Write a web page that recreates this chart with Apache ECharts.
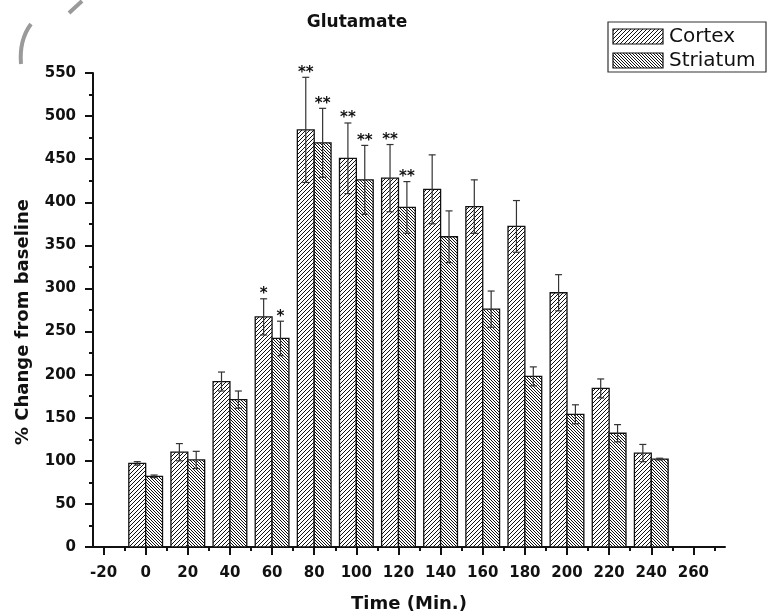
<!DOCTYPE html>
<html>
<head>
<meta charset="utf-8">
<script src="https://cdn.jsdelivr.net/npm/echarts@6/dist/echarts.min.js"></script>
<style>
  html, body { margin: 0; padding: 0; background: #fff; }
  #main { width: 768px; height: 615px; }
</style>
</head>
<body>
<div id="main"></div>
<script>
// 数据
const times = [0, 20, 40, 60, 80, 100, 120, 140, 160, 180, 200, 220, 240]
const cortex = [97, 110, 192, 267, 484, 451, 428, 415, 395, 372, 295, 184, 109]
const cortexErr = [2, 10, 11, 21, 61, 41, 39, 40, 31, 30, 21, 11, 10]
const cortexMarks = ['', '', '', '*', '**', '**', '**', '', '', '', '', '', '']
const striatum = [82, 101, 171, 242, 469, 426, 394, 360, 276, 198, 154, 132, 102]
const striatumErr = [1.5, 10, 10, 20, 40, 40, 30, 30, 21, 11, 11, 10, 1]
const striatumMarks = ['', '', '', '*', '**', '**', '**', '', '', '', '', '', '']
const xTicks = [-20, 0, 20, 40, 60, 80, 100, 120, 140, 160, 180, 200, 220, 240, 260]
const xMinorTicks = [-10, 10, 30, 50, 70, 90, 110, 130, 150, 170, 190, 210, 230, 250, 270]

const FONT = 'DejaVu Sans'

// 斜线填充
function makeHatch (size, forward) {
  const c = document.createElement('canvas')
  c.width = size
  c.height = size
  const ctx = c.getContext('2d')
  ctx.fillStyle = '#fff'
  ctx.fillRect(0, 0, size, size)
  ctx.strokeStyle = '#111'
  ctx.lineWidth = 1
  ctx.beginPath()
  if (forward) {
    ctx.moveTo(0, size); ctx.lineTo(size, 0)
    ctx.moveTo(-1, 1); ctx.lineTo(1, -1)
    ctx.moveTo(size - 1, size + 1); ctx.lineTo(size + 1, size - 1)
  } else {
    ctx.moveTo(0, 0); ctx.lineTo(size, size)
    ctx.moveTo(-1, size - 1); ctx.lineTo(1, size + 1)
    ctx.moveTo(size - 1, -1); ctx.lineTo(size + 1, 1)
  }
  ctx.stroke()
  return { image: c, repeat: 'repeat' }
}
const cortexFill = makeHatch(4, true)
const striatumFill = makeHatch(3, false)

function barRenderer (offset, marks, fill) {
  return function (params, api) {
    const t = api.value(0)
    const v = api.value(1)
    const e = api.value(2)
    const x0 = t + offset
    const p0 = api.coord([x0, v])
    const p1 = api.coord([x0 + 8, 0])
    const top = api.coord([x0 + 4, v + e])
    const bot = api.coord([x0 + 4, v - e])
    const cx = top[0]
    const children = [
      { type: 'rect', shape: { x: p0[0], y: p0[1], width: p1[0] - p0[0], height: p1[1] - p0[1] }, style: { fill: fill, stroke: '#111', lineWidth: 1.3 } },
      { type: 'line', shape: { x1: cx, y1: top[1], x2: cx, y2: bot[1] }, style: { stroke: '#333', lineWidth: 1.2 } },
      { type: 'line', shape: { x1: cx - 3.5, y1: top[1], x2: cx + 3.5, y2: top[1] }, style: { stroke: '#333', lineWidth: 1.2 } },
      { type: 'line', shape: { x1: cx - 3.5, y1: bot[1], x2: cx + 3.5, y2: bot[1] }, style: { stroke: '#333', lineWidth: 1.2 } }
    ]
    const mark = marks[params.dataIndex]
    if (mark) {
      children.push({
        type: 'text',
        style: { text: mark, x: cx, y: top[1] + 3, align: 'center', verticalAlign: 'bottom', fontFamily: FONT, fontWeight: 'bold', fontSize: 15, fill: '#111' }
      })
    }
    return { type: 'group', children: children }
  }
}

const chart = echarts.init(document.getElementById('main'))
chart.setOption({
  animation: false,
  title: {
    text: 'Glutamate',
    left: 352,
    top: 9,
    textAlign: 'center',
    textStyle: { fontFamily: FONT, fontWeight: 'bold', fontSize: 17, color: '#111' }
  },
  grid: { left: 93, right: 43, top: 73, bottom: 68, outerBoundsMode: 'none' },
  xAxis: [{
    type: 'value',
    min: -25,
    max: 275,
    name: 'Time (Min.)',
    nameLocation: 'middle',
    nameGap: 48,
    nameTextStyle: { fontFamily: FONT, fontWeight: 'bold', fontSize: 18, color: '#111' },
    splitLine: { show: false },
    axisLine: { onZero: false, lineStyle: { color: '#111', width: 2 } },
    axisTick: { show: true, customValues: xTicks, length: 8, lineStyle: { color: '#111', width: 2 } },
    axisLabel: { customValues: xTicks, margin: 19, fontFamily: FONT, fontWeight: 'bold', fontSize: 15, color: '#111' }
  }, {
    type: 'value',
    min: -25,
    max: 275,
    position: 'bottom',
    splitLine: { show: false },
    axisLine: { show: false, onZero: false },
    axisTick: { show: true, customValues: xMinorTicks, length: 4, lineStyle: { color: '#111', width: 2 } },
    axisLabel: { show: false }
  }],
  yAxis: {
    type: 'value',
    min: 0,
    max: 550,
    interval: 50,
    name: '% Change from baseline',
    nameLocation: 'middle',
    nameGap: 61,
    nameTextStyle: { fontFamily: FONT, fontWeight: 'bold', fontSize: 18, color: '#111', padding: [0, 24, 0, 0] },
    splitLine: { show: false },
    axisLine: { show: true, onZero: false, lineStyle: { color: '#111', width: 2 } },
    axisTick: { length: 8, lineStyle: { color: '#111', width: 2 } },
    minorTick: { show: true, splitNumber: 2, length: 4, lineStyle: { color: '#111', width: 2 } },
    axisLabel: { margin: 17, fontFamily: FONT, fontWeight: 'bold', fontSize: 15, color: '#111' }
  },
  graphic: [
    { type: 'bezierCurve', shape: { x1: 31, y1: 24, x2: 21, y2: 64, cpx1: 22, cpy1: 36, cpx2: 20, cpy2: 52 }, style: { stroke: '#9a9a9a', lineWidth: 4, fill: null } },
    { type: 'line', shape: { x1: 69, y1: 13, x2: 82, y2: 1 }, style: { stroke: '#9a9a9a', lineWidth: 4 } },
    { type: 'rect', shape: { x: 608, y: 22, width: 158, height: 50 }, style: { fill: '#fff', stroke: '#333', lineWidth: 1.2 } },
    { type: 'rect', shape: { x: 613, y: 29, width: 50, height: 15 }, style: { fill: cortexFill, stroke: '#111', lineWidth: 1.2 } },
    { type: 'rect', shape: { x: 613, y: 53, width: 50, height: 15 }, style: { fill: striatumFill, stroke: '#111', lineWidth: 1.2 } },
    { type: 'text', style: { text: 'Cortex', x: 669, y: 37, verticalAlign: 'middle', fontFamily: FONT, fontSize: 20, fill: '#111' } },
    { type: 'text', style: { text: 'Striatum', x: 669, y: 61, verticalAlign: 'middle', fontFamily: FONT, fontSize: 20, fill: '#111' } }
  ],
  series: [{
    name: 'Cortex',
    type: 'custom',
    xAxisIndex: 0,
    renderItem: barRenderer(-8, cortexMarks, cortexFill),
    encode: { x: 0, y: 1 },
    data: times.map((t, i) => [t, cortex[i], cortexErr[i]])
  }, {
    name: 'Striatum',
    type: 'custom',
    xAxisIndex: 0,
    renderItem: barRenderer(0, striatumMarks, striatumFill),
    encode: { x: 0, y: 1 },
    data: times.map((t, i) => [t, striatum[i], striatumErr[i]])
  }]
})
</script>
</body>
</html>
